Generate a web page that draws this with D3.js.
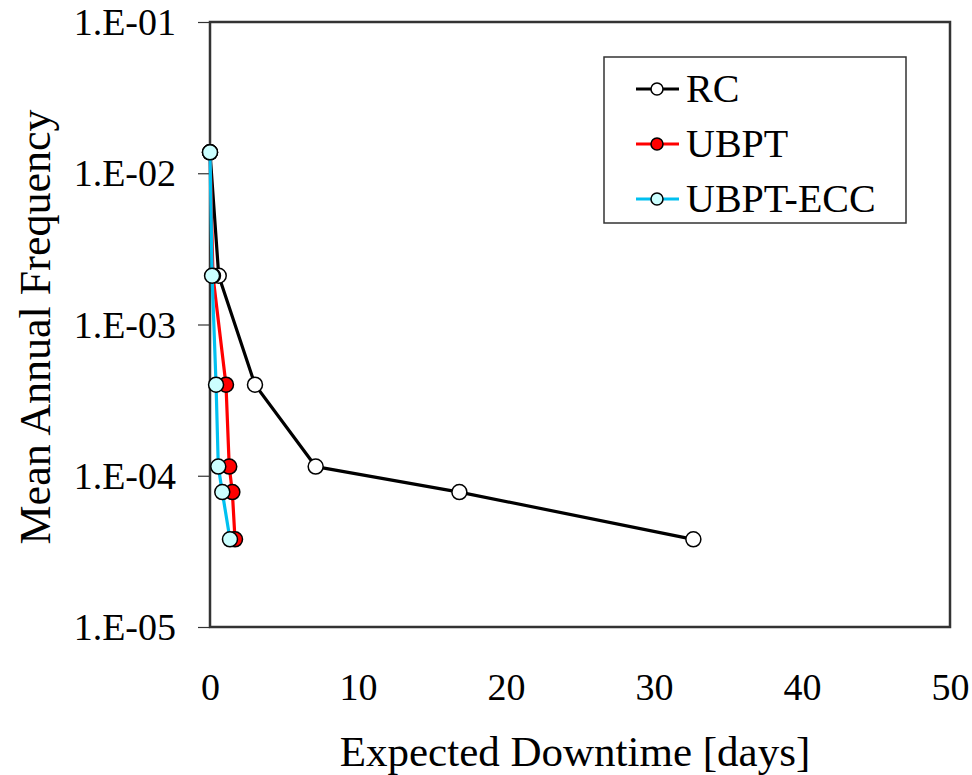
<!DOCTYPE html>
<html>
<head>
<meta charset="utf-8">
<script src="https://cdn.jsdelivr.net/npm/d3@7"></script>
<style>
  body { margin: 0; background: #fff; }
</style>
</head>
<body>
<svg id="chart" width="972" height="775"></svg>
<script>
// expected downtime [days] vs mean annual frequency
const levels = [1.375e-2, 2.1e-3, 4.0e-4, 1.15e-4, 7.8e-5, 3.8e-5];
const rcDays = [0, 0.59, 3.04, 7.14, 16.85, 32.66];
const ubptDays = [0, 0.2, 1.08, 1.30, 1.51, 1.69];
const eccDays = [0, 0.14, 0.41, 0.56, 0.83, 1.35];

const xTicks = [0, 10, 20, 30, 40, 50];
const yTicks = [1e-1, 1e-2, 1e-3, 1e-4, 1e-5];

const series = [
  { name: 'RC', days: rcDays, line: '#000000', fill: '#ffffff' },
  { name: 'UBPT', days: ubptDays, line: '#ff0000', fill: '#ff0000' },
  { name: 'UBPT-ECC', days: eccDays, line: '#00c0f0', fill: '#ccffff' }
];

const serif = '"Liberation Serif", "Times New Roman", Times, serif';

const svg = d3.select('#chart');
const plotLeft = 210, plotRight = 950, plotTop = 22, plotBottom = 627;

const x = d3.scaleLinear().domain([0, 50]).range([plotLeft, plotRight]);
const y = d3.scaleLog().domain([1e-5, 1e-1]).range([plotBottom, plotTop]);

const fmt = v => '1.E-' + String(Math.round(-Math.log10(v))).padStart(2, '0');

// y axis
const yAxis = svg.append('g')
  .attr('transform', `translate(${plotLeft},0)`)
  .call(d3.axisLeft(y).tickValues(yTicks).tickFormat(fmt).tickSize(12).tickPadding(22));
yAxis.select('.domain').remove();
yAxis.selectAll('line').attr('stroke', '#333').attr('stroke-width', 1.2);
yAxis.selectAll('text').attr('dy', '0.33em').style('font-size', '38px');

// x axis
const xAxis = svg.append('g')
  .attr('transform', `translate(0,${plotBottom})`)
  .call(d3.axisBottom(x).tickValues(xTicks).tickSize(0).tickPadding(60));
xAxis.select('.domain').remove();
xAxis.selectAll('text').attr('dy', '0.33em').style('font-size', '38px');

// plot frame
svg.append('rect')
  .attr('x', plotLeft).attr('y', plotTop)
  .attr('width', plotRight - plotLeft).attr('height', plotBottom - plotTop)
  .attr('fill', 'none').attr('stroke', '#333').attr('stroke-width', 2.5);

const line = d3.line().x(d => x(d[0])).y(d => y(d[1]));

series.forEach(s => {
  const pts = s.days.map((d, i) => [d, levels[i]]);
  const g = svg.append('g');
  g.append('path')
    .attr('d', line(pts))
    .attr('fill', 'none')
    .attr('stroke', s.line)
    .attr('stroke-width', 3.2)
    .attr('stroke-linejoin', 'round');
  g.selectAll('circle')
    .data(pts)
    .enter()
    .append('circle')
    .attr('cx', d => x(d[0]))
    .attr('cy', d => y(d[1]))
    .attr('r', 7.5)
    .attr('fill', s.fill)
    .attr('stroke', '#000')
    .attr('stroke-width', 1.5);
});

// legend
const legend = svg.append('g');
legend.append('rect')
  .attr('x', 604).attr('y', 57)
  .attr('width', 302).attr('height', 166)
  .attr('fill', '#fff').attr('stroke', '#333').attr('stroke-width', 1.5);

const item = legend.selectAll('g.item')
  .data(series)
  .enter()
  .append('g')
  .classed('item', true)
  .attr('transform', (d, i) => `translate(0,${89 + i * 55})`);

item.append('line')
  .attr('x1', 636).attr('x2', 679)
  .attr('stroke', d => d.line).attr('stroke-width', 3.2);
item.append('circle')
  .attr('cx', 657).attr('r', 6)
  .attr('fill', d => d.fill)
  .attr('stroke', '#000').attr('stroke-width', 1.5);
item.append('text')
  .attr('x', 686).attr('dy', '0.33em')
  .style('font-size', '40px')
  .text(d => d.name);

// axis titles
svg.append('text')
  .attr('x', (plotLeft + plotRight) / 2 - 5).attr('y', 752)
  .attr('dy', '0.33em')
  .attr('text-anchor', 'middle')
  .style('font-size', '43px')
  .text('Expected Downtime [days]');

svg.append('text')
  .attr('transform', 'translate(35,327) rotate(-90)')
  .attr('dy', '0.33em')
  .attr('text-anchor', 'middle')
  .style('font-size', '44px')
  .text('Mean Annual Frequency');

svg.selectAll('text')
  .style('font-family', serif)
  .attr('fill', '#000');
</script>
</body>
</html>
